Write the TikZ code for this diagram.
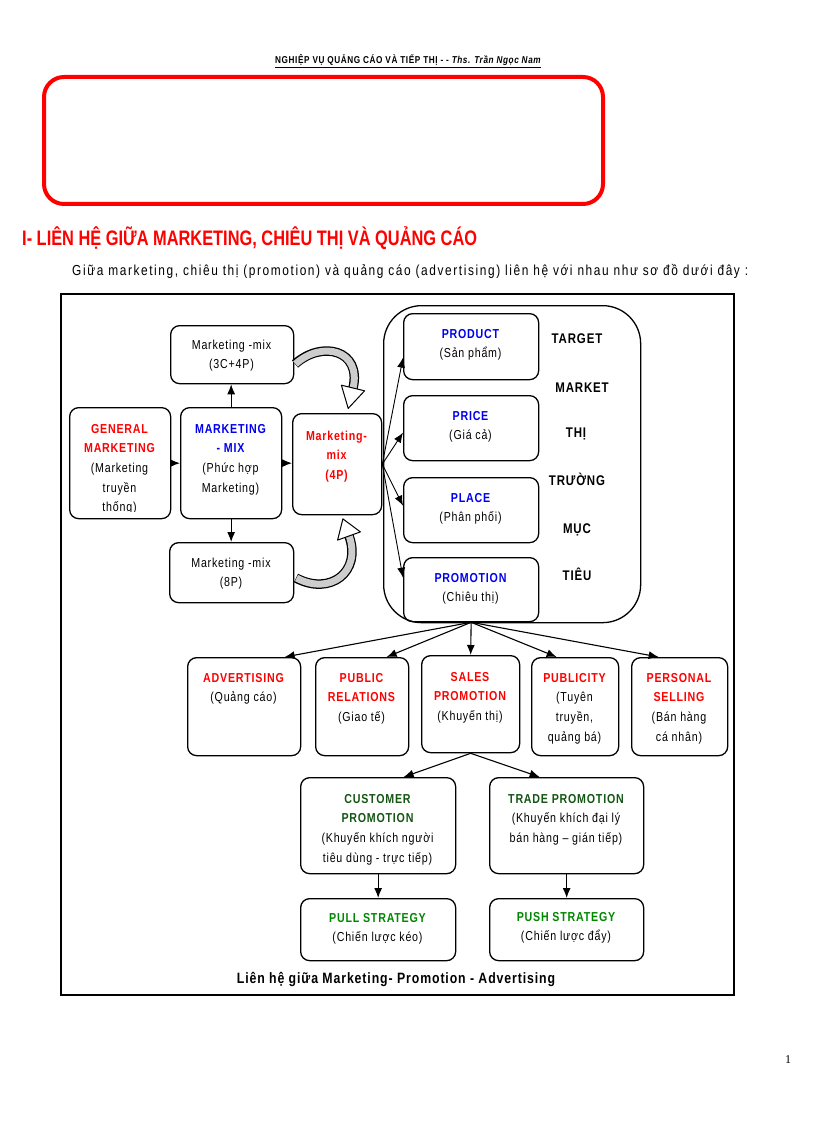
\documentclass[tikz,border=0pt]{standalone}
\usepackage{fontspec}
\setmainfont[FakeStretch=0.82,LetterSpace=6]{Liberation Sans}
\newfontfamily\narrow[FakeStretch=0.78]{Liberation Sans}
\newfontfamily\serifpn{Liberation Serif}
\usetikzlibrary{arrows.meta,calc}
\definecolor{mred}{RGB}{255,0,0}
\definecolor{mblue}{RGB}{0,0,240}
\definecolor{cgreen}{RGB}{20,85,20}
\definecolor{pgreen}{RGB}{0,135,0}
\definecolor{bandgray}{RGB}{205,205,205}
\newcommand{\bx}[6][]{\node[box,#1,minimum width={(#5-#3)*1pt},minimum height={(#6-#4)*1pt},anchor=north west] (#2) at (#3,#4) {};}
\newcommand{\R}[1]{{\color{mred}\bfseries #1}}
\newcommand{\Bl}[1]{{\color{mblue}\bfseries #1}}
\newcommand{\G}[1]{{\color{cgreen}\bfseries #1}}
\newcommand{\PG}[1]{{\color{pgreen}\bfseries #1}}
\begin{document}
\begin{tikzpicture}[x=1pt,y=-1pt,
  box/.style={draw,line width=1.3pt,rounded corners=9pt,inner sep=0pt},
  txt/.style={font=\fontsize{13}{19.7}\selectfont,align=center,inner sep=0pt,anchor=base},
  word/.style={font=\fontsize{14}{16}\selectfont\bfseries,inner sep=0pt,anchor=base},
  arr/.style={line width=1.1pt,-{Latex[length=10pt,width=8pt]}},
  band/.style={line width=9.5pt},
  bandin/.style={line width=7pt,bandgray},
  head/.style={fill=white,draw=black,line width=1pt,line join=round}]
\useasboundingbox (0,0) rectangle (816,1123);

% header
\node[anchor=base west,inner sep=0pt,font=\fontsize{10}{11}\selectfont\bfseries] (hdr) at (275,64)
  {\underline{NGHIỆP VỤ QUẢNG CÁO VÀ TIẾP THỊ - - \textit{Ths. Trần Ngọc Nam}}};

% title box
\node[draw=mred,line width=4pt,rounded corners=20pt,minimum width=559pt,minimum height=127pt,anchor=north west] (title) at (42,75) {};
\node[text=white,font=\fontsize{11}{13}\selectfont\bfseries] (t1) at (321,107) {Chương I};
\node[text=white,font=\fontsize{22}{24}\selectfont\bfseries] (t2) at (321,140) {TỔNG QUAN VỀ};
\node[text=white,font=\fontsize{22}{24}\selectfont\bfseries] (t3) at (321,178) {MARKETING – PROMOTION – ADVERTISING};

% heading and paragraph
\node[anchor=base west,inner sep=0pt,text=mred,font=\narrow\fontsize{21}{24}\selectfont\bfseries] (h1) at (22,245)
  {I- LIÊN HỆ GIỮA MARKETING, CHIÊU THỊ VÀ QUẢNG CÁO};
\node[anchor=base west,inner sep=0pt,font=\fontsize{14.5}{16}\selectfont\addfontfeature{LetterSpace=11}] (par) at (72,275)
  {Giữa marketing, chiêu thị (promotion) và quảng cáo (advertising) liên hệ với nhau như sơ đồ dưới đây :};

% frame
\node[draw,line width=1.5pt,minimum width=673pt,minimum height=701pt,anchor=north west,inner sep=0pt] (frame) at (60,293) {};

% left group
\bx{c3}{170}{325}{293}{383}
\bx{gen}{69}{407}{170}{518}
\bx{mix}{180}{407}{281}{518}
\bx{fourp}{292}{413}{381}{514}
\bx{c8}{169}{542}{293}{602}

\node[txt] (c3t) at (231.5,368.7) {Marketing -mix\\(3C+4P)};
\begin{scope}
\clip (70,408) rectangle (169,511);
\node[txt] (gent) at (119.5,511.8) {\R{GENERAL}\\\R{MARKETING}\\(Marketing\\truyền\\thống)};
\end{scope}
\node[txt] (mixt) at (230.5,492.1) {\Bl{MARKETING}\\\Bl{- MIX}\\(Phức hợp\\Marketing)};
\node[txt] (fourpt) at (336.5,479.4) {\R{Marketing-}\\\R{mix}\\\R{(4P)}};
\node[txt] (c8t) at (231,586.7) {Marketing -mix\\(8P)};

\draw[arr] (gen.east) -- (mix.west);
\draw[arr] (mix.east) -- (mix.east -| fourp.west);
\draw[arr] (mix.north) -- (mix.north |- c3.south);
\draw[arr] (mix.south) -- (mix.south |- c8.north);

% curved block arrows
\draw[band] (295,364) .. controls (322,340) and (362,350) .. (353,388);
\draw[bandin] (295.5,364) .. controls (322,340) and (362,350) .. (353,388.5);
\draw[head] (341.4,385.2) -- (364.6,390.8) -- (348.2,408.4) -- cycle;

\draw[band] (296,578) .. controls (330,596) and (362,572) .. (349,536);
\draw[bandin] (296.5,578) .. controls (330,596) and (362,572) .. (349,535.5);
\draw[head] (337.6,540.1) -- (360.4,531.9) -- (342.9,518.9) -- cycle;

% target market group
\node[draw,line width=1.3pt,rounded corners=38pt,minimum width=257pt,minimum height=317pt,anchor=north west,inner sep=0pt] (tm) at (383,305) {};
\bx{product}{403}{313}{538}{379}
\bx{price}{403}{395}{538}{460}
\bx{place}{403}{477}{538}{542}
\bx{promo}{403}{557}{538}{621}
\node[txt] (productt) at (470.5,357.7) {\Bl{PRODUCT}\\(Sản phẩm)};
\node[txt] (pricet) at (470.5,439.7) {\Bl{PRICE}\\(Giá cả)};
\node[txt] (placet) at (470.5,521.7) {\Bl{PLACE}\\(Phân phối)};
\node[txt] (promot) at (470.5,601.7) {\Bl{PROMOTION}\\(Chiêu thị)};

\node[word] (w1) at (577,343) {TARGET};
\node[word] (w2) at (582,392) {MARKET};
\node[word] (w3) at (576,437) {THỊ};
\node[word] (w4) at (577,485) {TRƯỜNG};
\node[word] (w5) at (577,533) {MỤC};
\node[word] (w6) at (577,580) {TIÊU};

\draw[arr,line width=0.9pt] (fourp.east) -- ($(product.west)+(0,11)$);
\draw[arr,line width=0.9pt] (fourp.east) -- ($(price.west)+(0,4.5)$);
\draw[arr,line width=0.9pt] (fourp.east) -- ($(place.west)+(0,-4.5)$);
\draw[arr,line width=0.9pt] (fourp.east) -- ($(promo.west)+(0,-12)$);

% promotion mix
\bx{adv}{187}{657}{300}{755}
\bx{pr}{315}{657}{408}{755}
\bx{sales}{421}{655}{519}{752}
\bx{publ}{531}{657}{618}{755}
\bx{pers}{631}{657}{727}{755}
\node[txt] (advt) at (243.5,701.7) {\R{ADVERTISING}\\(Quảng cáo)};
\node[txt] (prt) at (361.5,721.4) {\R{PUBLIC}\\\R{RELATIONS}\\(Giao tế)};
\node[txt] (salest) at (470,720.4) {\R{SALES}\\\R{PROMOTION}\\(Khuyến thị)};
\node[txt] (publt) at (574.5,741.1) {\R{PUBLICITY}\\(Tuyên\\truyền,\\quảng bá)};
\node[txt] (perst) at (679,741.1) {\R{PERSONAL}\\\R{SELLING}\\(Bán hàng\\cá nhân)};

\draw[arr] (promo.south) -- ($(adv.north)+(40.5,0)$);
\draw[arr] (promo.south) -- ($(pr.north)+(24.5,0)$);
\draw[arr] (promo.south) -- (sales.north);
\draw[arr] (promo.south) -- ($(publ.north)+(-18.5,0)$);
\draw[arr] (promo.south) -- ($(pers.north)+(-21,0)$);

% sales promotion split
\bx{cust}{300}{777}{455}{873}
\bx{trade}{489}{777}{643}{873}
\bx{pull}{300}{898}{455}{960}
\bx{push}{489}{898}{643}{960}
\node[txt] (custt) at (377.5,862.1) {\G{CUSTOMER}\\\G{PROMOTION}\\(Khuyến khích người\\tiêu dùng - trực tiếp)};
\node[txt] (tradet) at (566,842.4) {\G{TRADE PROMOTION}\\(Khuyến khích đại lý\\bán hàng – gián tiếp)};
\node[txt] (pullt) at (377.5,941.7) {\PG{PULL STRATEGY}\\(Chiến lược kéo)};
\node[txt] (pusht) at (566,940.7) {\PG{PUSH STRATEGY}\\(Chiến lược đẩy)};

\draw[arr] (sales.south) -- ($(cust.north)+(25.5,0)$);
\draw[arr] (sales.south) -- ($(trade.north)+(-27,0)$);
\draw[arr] (cust.south) -- (pull.north);
\draw[arr] (trade.south) -- (push.north);

\node[anchor=base,inner sep=0pt,font=\fontsize{15}{16}\selectfont\bfseries] (cap) at (396,983)
  {Liên hệ giữa Marketing- Promotion - Advertising};

\node[anchor=base,inner sep=0pt,font=\serifpn\fontsize{12}{14}\selectfont] (pg) at (788,1063) {1};
\end{tikzpicture}
\end{document}
